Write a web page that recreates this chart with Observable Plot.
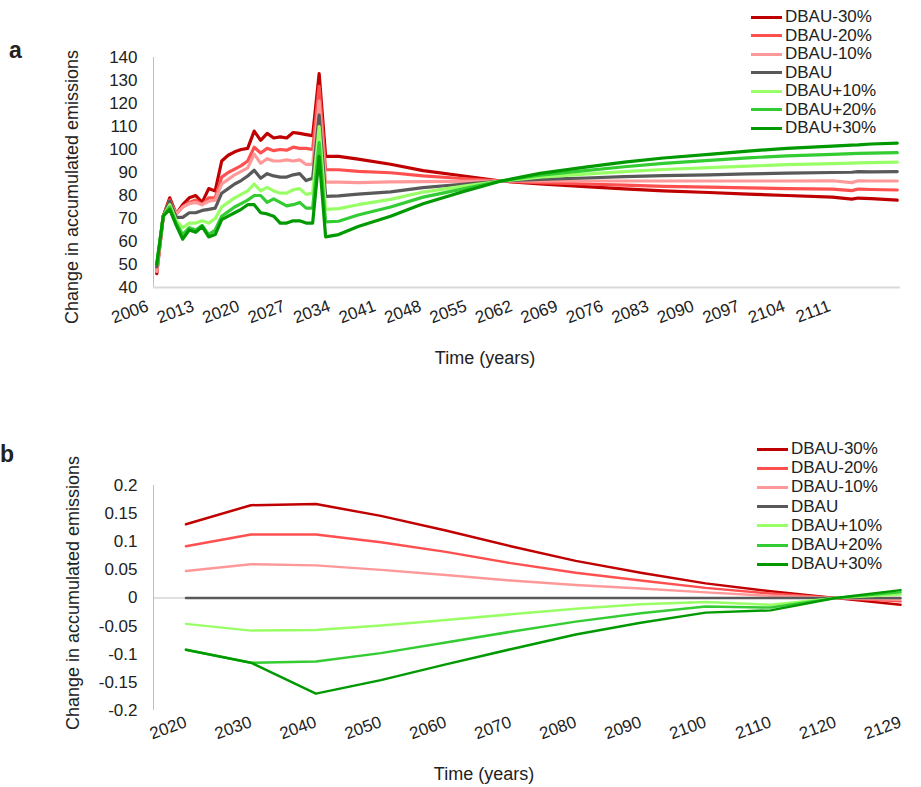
<!DOCTYPE html>
<html><head><meta charset="utf-8">
<script src="https://cdn.jsdelivr.net/npm/d3@7"></script>
<script src="https://cdn.jsdelivr.net/npm/@observablehq/plot@0.6"></script>
<style>
body{margin:0;background:#fff;}
#root{position:relative;width:921px;height:787px;font-family:"Liberation Sans",Arial,sans-serif;color:#222;overflow:hidden;}
.panel{position:absolute;left:0;}
.lbl{position:absolute;font-weight:bold;font-size:23px;line-height:1;}
.ttl{position:absolute;font-size:18px;white-space:nowrap;transform:translate(-50%,-50%);line-height:1;}
.ttl.rot{transform:translate(-50%,-50%) rotate(-90deg);}
.legend{position:absolute;font-size:17px;}
.legend .row{position:absolute;left:0;height:20px;display:flex;align-items:center;white-space:nowrap;}
.legend .sw{display:inline-block;width:31px;height:3px;margin-right:3px;}
</style></head><body><div id="root"></div>
<script>
// ---------- shared series ----------
const seriesNames  = ["DBAU-30%","DBAU-20%","DBAU-10%","DBAU","DBAU+10%","DBAU+20%","DBAU+30%"];
const seriesColors = ["#c00000","#ff5050","#ff9999","#595959","#99ff66","#33cc33","#009900"];

// ---------- panel a ----------
const yearsA = [2006,2007,2008,2009,2010,2011,2012,2013,2014,2015,2016,2017,2018,2019,2020,2021,2022,2023,2024,2025,2026,2027,2028,2029,2030,2031,2032,
                2034,2037,2042,2047,2053,2059,2065,2072,2078,2084,2091,2097,2103,2110,2113,2114,2116,2120];
const aM30 = [46,71,79,72,76,79,80,77,83,82,95,97.5,99,100,100.5,108,104,107,105,105.5,105,107.4,107,106.5,106,133,97,
              97,95.8,93.6,90.8,88.6,86.3,85.0,83.9,82.9,82.0,81.3,80.6,80.0,79.3,78.4,78.9,78.6,78.0];
const aM20 = [47,71,78,72,75,77,78,76,79,79,88,90,91.5,93,95,101,98.5,100.5,99.5,100,99.7,101,100.5,100.5,100,127.5,91.2,
              91.2,90.5,89.9,88.5,87.4,86.3,85.6,85.0,84.5,84.0,83.6,83.3,83.0,82.8,82.1,82.8,82.6,82.4];
const aM10 = [47,71,77,72,75,76.5,77,76,77.5,78,85,87,89,90.5,92,98,94,96,95,95,95.5,95,95.5,93.5,93.5,121,85.8,
              85.8,85.6,85.9,86.0,86.1,86.3,86.3,86.3,86.3,86.3,86.3,86.3,86.3,86.4,85.6,86.4,86.3,86.3];
const aBAU = [49,71,77.5,70.5,70.5,72.5,72.5,73.5,74,74.5,81,83,85,86.5,88.5,91,87.5,89.5,88.5,88,88,89,89.5,86.5,87.5,115,79.6,
              79.8,80.6,81.6,83.4,84.9,86.3,87.0,87.6,88.2,88.6,89.0,89.4,89.7,90.0,90.1,90.4,90.3,90.4];
const aP10 = [50,71,76,69,66,68,68,69,68,70,75,77,79,80.5,82,85,82,83.5,82,81,81,82.5,83,80.5,81,110,74,
              74.3,76.0,78.3,81.5,84.0,86.3,88.0,89.3,90.4,91.3,92.1,92.8,93.4,93.9,94.1,94.2,94.3,94.5];
const aP20 = [50,71,75,68,63,66,65,67,63,65,71,73,75,76.5,78,80,80,77,78.5,77,75.5,76,77,74.5,74.5,103,68.5,
              68.8,71.5,75.0,79.3,82.8,86.3,88.8,90.8,92.5,94.0,95.3,96.4,97.2,97.9,98.2,98.3,98.4,98.6];
const aP30 = [50,71,74,67,61,65,64,66.5,62,63,69.5,71,72.5,74,76,76,72.5,72,71,68,68,69,69,68,68,97,62,
              63.0,66.5,71.0,76.4,81.5,86.3,89.6,92.3,94.5,96.3,97.9,99.3,100.5,101.5,101.9,102.0,102.4,102.8];
const xTicksA = [2006,2013,2020,2027,2034,2041,2048,2055,2062,2069,2076,2083,2090,2097,2104,2111];
const yTicksA = [40,50,60,70,80,90,100,110,120,130,140];

// ---------- panel b ----------
const catsB = ["2020","2030","2040","2050","2060","2070","2080","2090","2100","2110","2120","2129"];
const bM30 = [0.131,0.165,0.167,0.146,0.120,0.092,0.066,0.045,0.026,0.012,0,-0.012];
const bM20 = [0.092,0.113,0.113,0.099,0.082,0.062,0.045,0.031,0.018,0.008,0,-0.006];
const bM10 = [0.048,0.060,0.058,0.050,0.041,0.031,0.023,0.017,0.010,0.004,0,-0.003];
const bBAU = [0,0,0,0,0,0,0,0,0,0,0,0];
const bP10 = [-0.046,-0.058,-0.057,-0.049,-0.039,-0.029,-0.019,-0.011,-0.007,-0.012,0,0.006];
const bP20 = [-0.092,-0.115,-0.113,-0.098,-0.079,-0.060,-0.042,-0.027,-0.015,-0.017,0,0.010];
const bP30 = [-0.092,-0.115,-0.170,-0.146,-0.118,-0.091,-0.065,-0.044,-0.026,-0.022,0,0.014];
const yTicksB = [-0.2,-0.15,-0.1,-0.05,0,0.05,0.1,0.15,0.2];

const aSeries = [aM30,aM20,aM10,aBAU,aP10,aP20,aP30];
const bSeries = [bM30,bM20,bM10,bBAU,bP10,bP20,bP30];
const rowsA = aSeries.flatMap((arr, s) => arr.map((v, i) => ({x: yearsA[i], y: v, s: seriesNames[s]})));
const rowsB = bSeries.flatMap((arr, s) => arr.map((v, i) => ({x: i, y: v, s: seriesNames[s]})));

const root = document.getElementById("root");
const font = {fontFamily: '"Liberation Sans", Arial, sans-serif', fontSize: "17px", color: "#222", background: "transparent", overflow: "visible"};
const colorScale = {domain: seriesNames, range: seriesColors};

const plotA = Plot.plot({
  width: 921, height: 372,
  marginLeft: 153, marginRight: 21, marginTop: 57, marginBottom: 85,
  style: font,
  x: {domain: [2005.5, 2120.5]},
  y: {domain: [40, 140]},
  color: colorScale,
  marks: [
    Plot.ruleX([2005.5], {stroke: "#bfbfbf", strokeWidth: 1}),
    Plot.ruleY([40], {stroke: "#d9d9d9", strokeWidth: 2}),
    Plot.axisY({ticks: yTicksA, tickSize: 0, tickPadding: 16, tickFormat: d => String(d), label: null}),
    Plot.axisX({ticks: xTicksA, tickSize: 0, tickPadding: 6, tickRotate: -20, tickFormat: d => String(d), label: null, dx: -9, dy: 12}),
    Plot.line(rowsA, {x: "x", y: "y", z: "s", stroke: "s", strokeWidth: 3.2, strokeLinejoin: "round"})
  ]
});
plotA.classList.add("panel"); plotA.style.top = "0px";
root.appendChild(plotA);

const plotB = Plot.plot({
  width: 921, height: 397,
  marginLeft: 153, marginRight: 21, marginTop: 95, marginBottom: 77,
  style: font,
  x: {type: "linear", domain: [-0.5, catsB.length - 1]},
  y: {domain: [-0.2, 0.2]},
  color: colorScale,
  marks: [
    Plot.ruleX([-0.5], {stroke: "#bfbfbf", strokeWidth: 1}),
    Plot.ruleY([0], {stroke: "#bfbfbf", strokeWidth: 1}),
    Plot.axisY({ticks: yTicksB, tickSize: 0, tickPadding: 16, tickFormat: d => d === 0 ? "0" : String(+d.toFixed(2)), label: null}),
    Plot.axisX({ticks: catsB.map((c, i) => i), tickSize: 0, tickPadding: 6, tickRotate: -20, tickFormat: i => catsB[i], label: null, dy: 5}),
    Plot.line(rowsB, {x: "x", y: "y", z: "s", stroke: "s", strokeWidth: 2.5, strokeLinejoin: "round"})
  ]
});
plotB.classList.add("panel"); plotB.style.top = "390px";
root.appendChild(plotB);

// ---------- text & legends ----------
function addDiv(cls, text, css) {
  const d = document.createElement("div");
  d.className = cls; d.textContent = text;
  Object.assign(d.style, css);
  root.appendChild(d); return d;
}
addDiv("lbl", "a", {left: "9px", top: "39px"});
addDiv("lbl", "b", {left: "0px", top: "443px"});
addDiv("ttl rot", "Change in accumulated emissions", {left: "72px", top: "187px"});
addDiv("ttl rot", "Change in accumulated emissions", {left: "73px", top: "593px"});
addDiv("ttl", "Time (years)", {left: "485px", top: "358px"});
addDiv("ttl", "Time (years)", {left: "484px", top: "774px"});

function legend(left, top, step) {
  const lg = document.createElement("div");
  lg.className = "legend";
  lg.style.left = left + "px"; lg.style.top = top + "px";
  seriesNames.forEach((n, i) => {
    const r = document.createElement("div");
    r.className = "row"; r.style.top = (i * step) + "px";
    const sw = document.createElement("span"); sw.className = "sw"; sw.style.background = seriesColors[i];
    r.appendChild(sw); r.appendChild(document.createTextNode(n));
    lg.appendChild(r);
  });
  root.appendChild(lg);
}
legend(751, 7, 18.5);
legend(757, 439, 19.2);
</script>
</body></html>
